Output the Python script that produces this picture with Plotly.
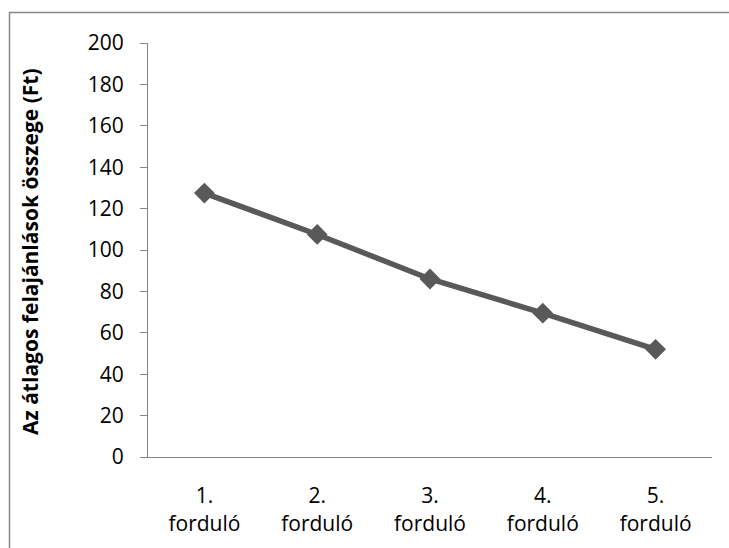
import plotly.graph_objects as go

# Rounds and average offer amounts
rounds = ["1.<br>forduló", "2.<br>forduló", "3.<br>forduló", "4.<br>forduló", "5.<br>forduló"]
avg_offer = [127.5, 107.5, 86, 69.5, 52]
y_ticks = list(range(0, 201, 20))

W, H = 729, 548
ML, MR, MT, MB = 148, 17, 43, 91
PW = W - ML - MR
PH = H - MT - MB

font_family = "Open Sans, Liberation Sans, sans-serif"
axis_grey = "#868686"
line_grey = "#595959"
fs = 21

fig = go.Figure()
fig.add_trace(go.Scatter(
    x=rounds,
    y=avg_offer,
    mode="lines+markers",
    line=dict(color=line_grey, width=5.5),
    marker=dict(symbol="diamond", size=16, color=line_grey),
    showlegend=False,
    cliponaxis=False,
))

fig.update_layout(
    width=W,
    height=H,
    margin=dict(l=ML, r=MR, t=MT, b=MB),
    paper_bgcolor="white",
    plot_bgcolor="white",
    font=dict(family=font_family, size=fs, color="black"),
    xaxis=dict(
        type="category",
        range=[-0.5, len(rounds) - 0.5],
        showline=True,
        linecolor=axis_grey,
        linewidth=1,
        showgrid=False,
        ticks="",
        tickfont=dict(size=fs),
        ticklabelstandoff=20,
        fixedrange=True,
    ),
    yaxis=dict(
        range=[0, 200],
        tickvals=y_ticks,
        showline=True,
        linecolor=axis_grey,
        linewidth=1,
        showgrid=False,
        ticks="outside",
        ticklen=7,
        tickcolor=axis_grey,
        tickfont=dict(size=fs),
        ticklabelstandoff=12,
        zeroline=False,
        fixedrange=True,
    ),
    annotations=[dict(
        text="<b>Az átlagos felajánlások összege (Ft)</b>",
        textangle=-90,
        xref="paper", yref="paper",
        x=(30 - ML) / PW, y=(H - MB - 252) / PH,
        xanchor="center", yanchor="middle",
        showarrow=False,
        font=dict(size=fs, family=font_family, color="black"),
    )],
    shapes=[dict(
        type="rect",
        xref="paper", yref="paper",
        x0=(9.5 - ML) / PW, x1=(760 - ML) / PW,
        y0=(H - MB - 580) / PH, y1=(H - MB - 12.5) / PH,
        line=dict(color=axis_grey, width=1.5),
        fillcolor="rgba(0,0,0,0)",
        layer="below",
    )],
)

fig.write_html("out.html")
